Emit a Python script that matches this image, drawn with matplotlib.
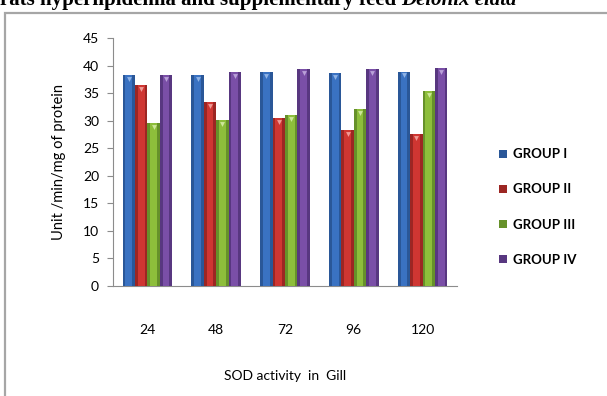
import numpy as np
import matplotlib.pyplot as plt
from matplotlib.patches import Rectangle

# SOD activity in gill (Unit/min/mg of protein) by exposure time
hours = ['24', '48', '72', '96', '120']
groups = ['GROUP I', 'GROUP II', 'GROUP III', 'GROUP IV']
group1 = [38.3, 38.3, 38.8, 38.7, 38.9]
group2 = [36.5, 33.3, 30.4, 28.3, 27.5]
group3 = [29.6, 30.1, 31.0, 32.1, 35.4]
group4 = [38.3, 38.8, 39.3, 39.3, 39.6]

colors = ['#3a72c2', '#cf3632', '#8dbe3b', '#7a4fa7']
edges = ['#2a5798', '#9c2623', '#66912a', '#583780']
tops = ['#8fb3e6', '#ef9a95', '#cde69a', '#b9a0d8']

fig = plt.figure(figsize=(6.07, 3.96), dpi=100)
fig.patch.set_facecolor('white')

# heading line from the page, cut off at the top
fig.text(396 / 607, 1 - 5 / 396, 'rats hyperlipidemia and supplementary feed',
         ha='right', va='baseline', fontsize=15, fontweight='bold',
         family='Liberation Serif')
fig.text(401 / 607, 1 - 5 / 396, 'Delonix elata', ha='left', va='baseline',
         fontsize=15, fontweight='bold', style='italic',
         family='Liberation Serif')

# chart frame
fig.patches.append(Rectangle((4.5 / 607, -0.1), 1.2, 1 - 12.5 / 396 + 0.1,
                             transform=fig.transFigure, fill=False,
                             edgecolor='#a6a6a6', linewidth=1.6))

ax = fig.add_axes([113 / 607, 1 - 286 / 396, 344 / 607, 248 / 396])
x = np.arange(len(hours))
w = 0.18
series = [group1, group2, group3, group4]
for i, vals in enumerate(series):
    pos = x + (i - 1.5) * w
    ax.bar(pos, vals, width=w, color=edges[i], linewidth=0,
           label=groups[i], zorder=3)
    # lighter middle for the bevelled look
    ax.bar(pos, vals, width=w * 0.55, color=colors[i], linewidth=0, zorder=4)
    ax.plot(pos, np.array(vals) - 0.7, 'v', color=tops[i], ms=3.5,
            mew=0, zorder=5)

ax.set_xlim(-0.5, 4.5)
ax.set_ylim(0, 45)
ax.set_yticks(range(0, 46, 5))
ax.set_xticks(x)
ax.set_xticklabels(hours)
for s in ['top', 'right']:
    ax.spines[s].set_visible(False)
ax.spines['left'].set_color('#8c8c8c')
ax.spines['bottom'].set_color('#8c8c8c')
ax.tick_params(axis='y', length=4, color='#8c8c8c', pad=6, labelsize=10)
ax.tick_params(axis='x', length=0, pad=27, labelsize=10)
for t in ax.get_xticklabels() + ax.get_yticklabels():
    t.set_family('Lato')

ax.set_ylabel('Unit /min/mg of protein', family='Lato', fontsize=10.5,
              labelpad=12)
ax.set_xlabel('SOD activity  in  Gill', family='Lato', fontsize=10,
              labelpad=25)

fig.legend(loc='center left', bbox_to_anchor=(487 / 607, 1 - 207 / 396),
           frameon=False, prop={'family': 'Lato', 'size': 9.5,
                                'weight': 'bold'},
           handlelength=0.6, handleheight=0.6, handletextpad=0.5,
           labelspacing=1.75)

fig.savefig('out.png', dpi=100)
